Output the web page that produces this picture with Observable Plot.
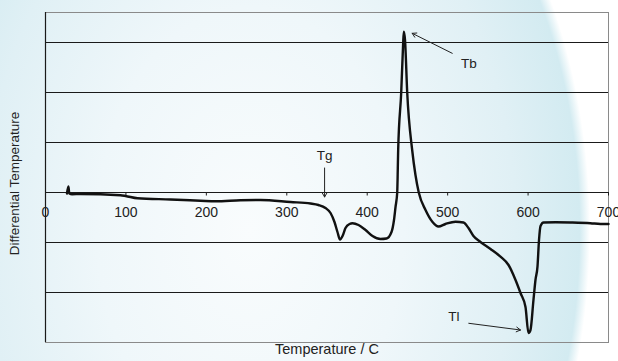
<!DOCTYPE html>
<html>
<head>
<meta charset="utf-8">
<script src="https://cdn.jsdelivr.net/npm/d3@7"></script>
<script src="https://cdn.jsdelivr.net/npm/@observablehq/plot@0.6"></script>
<style>
  html, body { margin: 0; padding: 0; }
  body {
    width: 618px; height: 361px; overflow: hidden;
    font-family: "Liberation Sans", Arial, sans-serif;
    background: radial-gradient(ellipse 340px 494px at 250px 230px, #f9fcfd 0%, #eff7fa 45%, #e0f0f5 78%, #d3ebf1 97%, #ffffff 100%);
  }
  #chart svg { display: block; }
</style>
</head>
<body>
<div id="chart"></div>
<script>
// Temperature (C) and differential temperature readings (grid units)
const temperature = [26.7, 28.5, 29.6, 33, 43.5, 93.2, 99.5, 114.4, 155.4, 192.7, 211.4, 242.4, 267.3, 304.6, 329.5, 339.4, 348.1, 354.4, 359.3, 363, 366.2, 369.3, 373, 378, 381.7, 389.2, 397.9, 406.6, 416.5, 424, 430.2, 433.3, 435.2, 437.3, 438.5, 442.3, 444.6, 445.5, 447, 449.7, 455.9, 460, 464.1, 472.5, 481.2, 488.6, 497.3, 509.8, 519.7, 525.9, 532.1, 540.8, 553.3, 565.7, 575.7, 584.4, 590.6, 596.8, 600.5, 603, 606.7, 609.2, 611.7, 613.6, 615.5, 619.2, 634.1, 652.7, 677.6, 690, 700];
const diffTemp = [-0.02, 0.12, -0.02, -0.035, -0.03, -0.056, -0.07, -0.116, -0.14, -0.164, -0.176, -0.156, -0.15, -0.19, -0.22, -0.25, -0.31, -0.41, -0.59, -0.79, -0.94, -0.87, -0.71, -0.63, -0.616, -0.65, -0.75, -0.87, -0.93, -0.92, -0.79, -0.55, -0.29, 0, 0.85, 2.01, 2.95, 3.216, 3.05, 2.01, 0.85, 0.35, 0, -0.35, -0.59, -0.68, -0.63, -0.584, -0.6, -0.71, -0.87, -0.99, -1.13, -1.284, -1.45, -1.75, -2.01, -2.29, -2.81, -2.75, -2.15, -1.75, -1.484, -0.95, -0.67, -0.6, -0.596, -0.6, -0.614, -0.63, -0.63];

const xTicks = [0, 100, 200, 300, 400, 500, 600, 700];
const gridLevels = [-2, -1, 1, 2, 3];

// Annotations
const annLabels = ["Tg", "Tb", "Tl"];
const annTextX = [347, 526.3, 507.6];
const annTextY = [0.73, 2.584, -2.484];
const arrowX1 = [347, 505.7, 526.3];
const arrowY1 = [0.49, 2.784, -2.616];
const arrowX2 = [347, 455.9, 590.6];
const arrowY2 = [-0.09, 3.184, -2.75];

const series = temperature.map((t, i) => ({t, v: diffTemp[i]}));
const ann = annLabels.map((label, i) => ({
  label, tx: annTextX[i], ty: annTextY[i],
  x1: arrowX1[i], y1: arrowY1[i], x2: arrowX2[i], y2: arrowY2[i]
}));

const chart = Plot.plot({
  width: 618,
  height: 361,
  marginLeft: 45,
  marginRight: 10,
  marginTop: 12,
  marginBottom: 19,
  x: {domain: [0, 700], axis: null},
  y: {domain: [-3, 3.6], axis: null},
  style: {background: "transparent", fontFamily: "Liberation Sans, Arial, sans-serif", color: "#222", overflow: "visible"},
  marks: [
    Plot.frame({stroke: "#8a8a8a", strokeWidth: 1}),
    Plot.ruleY(gridLevels, {stroke: "#1a1a1a", strokeWidth: 1}),
    Plot.ruleX([0], {stroke: "#1a1a1a", strokeWidth: 1.2}),
    Plot.ruleY([0], {stroke: "#1a1a1a", strokeWidth: 1.2}),
    Plot.ruleX(xTicks, {x: d => d, y1: 0, y2: -0.07, stroke: "#1a1a1a"}),
    Plot.text(xTicks, {x: d => d, y: 0, dy: 20, text: d => String(d), fontSize: 14, fill: "#222"}),
    Plot.line(series, {x: "t", y: "v", stroke: "#111", strokeWidth: 2.4, curve: "monotone-x"}),
    Plot.arrow(ann, {x1: "x1", y1: "y1", x2: "x2", y2: "y2", stroke: "#222", strokeWidth: 1, headLength: 7}),
    Plot.text(ann, {x: "tx", y: "ty", text: "label", fontSize: 13.5, fill: "#222"}),
    Plot.text(["Differential Temperature"], {frameAnchor: "left", dx: -31, dy: 6, rotate: -90, textAnchor: "middle", fontSize: 13.5, fill: "#222"}),
    Plot.text(["Temperature / C"], {frameAnchor: "bottom", dy: 11, fontSize: 14.5, fill: "#222"})
  ]
});
document.getElementById("chart").appendChild(chart);
</script>
</body>
</html>
